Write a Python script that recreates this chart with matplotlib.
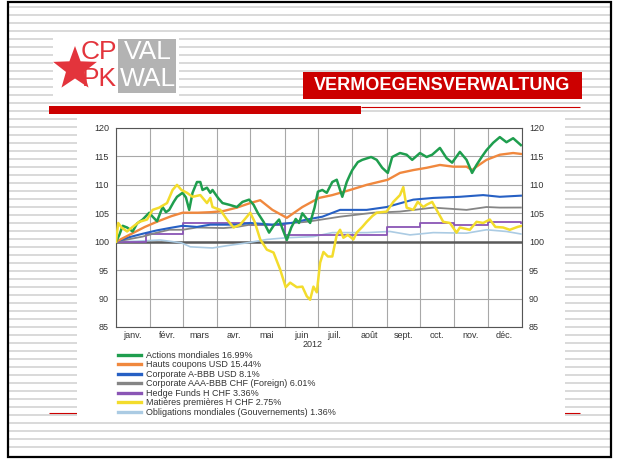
import matplotlib
matplotlib.use("Agg")
import matplotlib.pyplot as plt
import matplotlib.dates as mdates
from matplotlib.ticker import NullFormatter, FuncFormatter
from matplotlib.lines import Line2D
from matplotlib.patches import Rectangle, Polygon
import numpy as np
import pandas as pd

plt.rcParams['font.family'] = ['Liberation Sans', 'DejaVu Sans']

W, H = 618, 459

# index values, 1 Jan 2012 = 100
green_d = ["01-01", "01-04", "01-07", "01-11", "01-16", "01-20", "01-25", "01-31",
           "02-03", "02-07", "02-12", "02-15", "02-18", "02-22", "02-25", "03-01",
           "03-04", "03-07", "03-10", "03-14", "03-17", "03-19", "03-23", "03-26",
           "03-28", "04-02", "04-06", "04-12", "04-19", "04-24", "04-30", "05-04",
           "05-08", "05-13", "05-18", "05-22", "05-27", "05-31", "06-03", "06-07",
           "06-11", "06-14", "06-17", "06-21", "06-24", "06-28", "07-01", "07-05",
           "07-09", "07-14", "07-18", "07-23", "07-27", "07-30", "08-01", "08-06",
           "08-10", "08-18", "08-23", "08-28", "09-02", "09-06", "09-13", "09-19",
           "09-24", "10-01", "10-07", "10-12", "10-19", "10-25", "10-30", "11-06",
           "11-12", "11-17", "11-21", "11-26", "11-30", "12-06", "12-12", "12-18",
           "12-24", "12-31"]
green_v = [100, 101.2, 102.8, 102.5, 101.8, 103.2, 103.9, 105.1,
           104.4, 103.6, 106.1, 105.2, 105.6, 107.0, 107.9, 108.6,
           107.8, 105.6, 108.6, 110.5, 110.5, 109.1, 109.5, 108.6,
           109.1, 107.7, 106.8, 106.5, 106.1, 107.0, 107.4, 106.5,
           105.0, 103.5, 101.6, 102.8, 103.9, 101.8, 100.3, 102.5,
           104.0, 103.3, 105.0, 104.0, 103.3, 106.0, 108.8, 109.1,
           108.6, 110.5, 110.9, 107.9, 110.5, 111.8, 112.6, 114.0,
           114.4, 114.9, 114.4, 113.0, 112.1, 114.9, 115.6, 115.3,
           114.4, 115.6, 114.9, 115.3, 116.5, 114.7, 113.9, 115.8,
           114.4, 112.1, 113.5, 115.0, 116.1, 117.4, 118.4, 117.5,
           118.2, 116.99]

orange_d = ["01-01", "01-13", "01-27", "02-08", "02-20", "03-01", "03-15", "03-27",
            "04-07", "04-19", "05-01", "05-10", "05-21", "06-03", "06-17", "07-02",
            "07-14", "07-30", "08-14", "09-02", "09-13", "09-25", "10-07", "10-19",
            "10-31", "11-12", "11-17", "11-21", "11-30", "12-12", "12-24", "12-31"]
orange_v = [100, 101.2, 102.6, 103.6, 104.5, 105.1, 105.1, 105.2,
            105.4, 106.0, 106.8, 107.3, 105.6, 104.2, 106.1, 107.7,
            108.2, 109.1, 110.0, 110.9, 112.1, 112.6, 113.0, 113.5,
            113.2, 113.2, 112.6, 113.2, 114.4, 115.3, 115.6, 115.44]

blue_d = ["01-01", "01-13", "01-25", "02-07", "02-18", "03-01", "03-14", "03-26",
          "04-19", "05-01", "05-21", "06-07", "06-21", "07-05", "07-21", "08-01",
          "08-14", "09-01", "09-25", "10-13", "11-06", "11-27", "12-12", "12-31"]
blue_v = [100, 100.8, 101.4, 102.0, 102.4, 102.8, 102.6, 103.0,
          103.0, 103.3, 103.0, 103.3, 103.9, 104.4, 105.6, 105.6,
          105.6, 106.1, 107.4, 107.7, 107.9, 108.2, 107.9, 108.1]

gray_d = ["01-01", "01-25", "02-07", "02-18", "03-01", "03-14", "04-07", "04-19",
          "05-01", "05-21", "06-21", "07-21", "08-20", "09-13", "10-13", "11-12",
          "11-30", "12-12", "12-31"]
gray_v = [100, 100.9, 101.6, 102.1, 102.1, 102.5, 102.4, 102.6,
          103.0, 103.0, 103.5, 104.4, 105.1, 105.3, 106.0, 105.6,
          106.1, 106.0, 106.01]

purple_d = ["01-01", "01-28", "03-01", "05-01", "06-01", "09-01", "10-01", "11-01",
            "12-01", "12-31"]
purple_v = [100, 101.3, 103.3, 103.0, 101.2, 102.5, 103.3, 103.0, 103.5, 103.36]

yellow_d = ["01-01", "01-03", "01-06", "01-11", "01-16", "01-22", "01-29", "02-03",
            "02-09", "02-16", "02-21", "02-25", "02-29", "03-05", "03-10", "03-17",
            "03-23", "03-26", "03-28", "04-04", "04-10", "04-16", "04-22", "04-28",
            "05-01", "05-05", "05-10", "05-16", "05-22", "05-28", "06-02", "06-06",
            "06-12", "06-17", "06-21", "06-24", "06-27", "06-30", "07-03", "07-06",
            "07-10", "07-14", "07-18", "07-21", "07-24", "07-28", "08-02", "08-05",
            "08-10", "08-14", "08-19", "08-23", "09-01", "09-07", "09-13", "09-16",
            "09-19", "09-25", "09-29", "10-04", "10-07", "10-12", "10-16", "10-22",
            "10-28", "11-03", "11-06", "11-15", "11-21", "11-27", "12-03", "12-08",
            "12-15", "12-21", "12-28", "12-31"]
yellow_v = [100, 103.3, 102.5, 101.8, 102.6, 103.5, 103.9, 105.6,
            106.0, 106.8, 109.1, 110.0, 109.1, 108.6, 107.9, 108.2,
            106.8, 107.7, 106.1, 105.6, 103.9, 102.5, 103.0, 104.4,
            105.1, 103.5, 100.4, 98.6, 98.1, 95.1, 92.0, 92.8,
            92.0, 92.1, 90.4, 89.8, 92.1, 91.1, 96.3, 98.2,
            97.4, 97.4, 101.2, 102.1, 100.7, 101.2, 100.4, 101.6,
            102.6, 103.5, 104.5, 105.1, 105.3, 107.0, 108.2, 109.6,
            106.0, 105.6, 107.0, 106.1, 106.5, 107.0, 105.6, 103.5,
            103.3, 101.6, 102.5, 102.1, 103.5, 103.3, 103.9, 102.6,
            102.5, 102.1, 102.6, 102.75]

lblue_d = ["01-01", "01-20", "02-10", "02-29", "03-08", "03-28", "04-10", "04-28",
           "05-16", "06-03", "06-27", "07-14", "08-14", "09-04", "09-22", "10-13",
           "11-12", "11-30", "12-18", "12-31"]
lblue_v = [100, 100.1, 100.3, 99.8, 99.1, 98.9, 99.3, 99.8,
           100.4, 100.7, 100.9, 101.6, 101.6, 101.8, 101.2, 101.6,
           101.5, 102.1, 101.8, 101.36]

labels = ["Actions mondiales 16.99%",
          "Hauts coupons USD 15.44%",
          "Corporate A-BBB USD 8.1%",
          "Corporate AAA-BBB CHF (Foreign) 6.01%",
          "Hedge Funds H CHF 3.36%",
          "Matières premières H CHF 2.75%",
          "Obligations mondiales (Gouvernements) 1.36%"]
colors = ["#1f9e4e", "#f0883e", "#2660c4", "#858585", "#8a55b5", "#f3dc2c", "#abcbe3"]
months_fr = ["janv.", "févr.", "mars", "avr.", "mai", "juin",
             "juil.", "août", "sept.", "oct.", "nov.", "déc."]


def to_dates(md):
    return pd.to_datetime(["2012-" + d for d in md])


fig = plt.figure(figsize=(W / 100, H / 100), dpi=100)

# slide background in pixel coordinates
bg = fig.add_axes([0, 0, 1, 1])
bg.set_xlim(0, W)
bg.set_ylim(H, 0)
bg.axis('off')
for y in np.arange(7, 455, 8.0):
    bg.hlines(y, 9, 610, color='#d9d9d9', lw=1.4, zorder=0)
bg.add_patch(Rectangle((8, 2), 603, 455, fill=False, ec='black', lw=1.6, zorder=5))

# logo
bg.add_patch(Rectangle((53, 37), 126, 63, fc='white', ec='none', zorder=1))
bg.add_patch(Rectangle((118, 39), 58, 54, fc='#b3b3b3', ec='none', zorder=1))
ang = np.deg2rad(198 + np.arange(10) * 36)
rad = np.where(np.arange(10) % 2 == 0, 23, 9.5)
bg.add_patch(Polygon(np.c_[75 + rad * np.cos(ang), 69 + rad * np.sin(ang)],
                     fc='#e3343c', ec='none', zorder=1))
bg.text(117, 52, "CP", color='#e3343c', fontsize=19, ha='right', va='center')
bg.text(117, 79, "PK", color='#e3343c', fontsize=19, ha='right', va='center')
bg.text(148, 52, "VAL", color='white', fontsize=19, ha='center', va='center')
bg.text(148, 79, "WAL", color='white', fontsize=19, ha='center', va='center')

# header
bg.add_patch(Rectangle((303, 72), 279, 27, fc='#cc0000', ec='none', zorder=1))
bg.text(442, 86, "VERMOEGENSVERWALTUNG", color='white', fontsize=13,
        fontweight='bold', ha='center', va='center')
bg.add_patch(Rectangle((49, 106), 312, 8, fc='#cc0000', ec='none', zorder=1))
bg.hlines(107, 361, 580, color='#cc0000', lw=0.8, zorder=1)
bg.hlines(413, 49, 580, color='#cc0000', lw=0.8, zorder=1)

# chart panel
bg.add_patch(Rectangle((77, 114), 488, 305, fc='white', ec='none', zorder=2))

ax = fig.add_axes([116 / W, 1 - 327 / H, 406 / W, 199 / H])
ax.set_facecolor('white')

series = [(lblue_d, lblue_v, 6, 1.2), (purple_d, purple_v, 4, 1.3),
          (gray_d, gray_v, 3, 1.3), (blue_d, blue_v, 2, 1.5),
          (orange_d, orange_v, 1, 1.7), (green_d, green_v, 0, 1.8),
          (yellow_d, yellow_v, 5, 1.8)]
for d, v, i, lw in series:
    ds = 'steps-post' if i == 4 else 'default'
    ax.plot(to_dates(d), v, color=colors[i], lw=lw, drawstyle=ds, zorder=3)

ax.axhline(100, color='#5a5a5a', lw=1.8, zorder=2)
ax.set_ylim(85, 120)
ax.set_xlim(pd.Timestamp("2012-01-01"), pd.Timestamp("2013-01-01"))
ax.set_yticks(range(85, 121, 5))
ax.xaxis.set_major_locator(mdates.MonthLocator())
ax.xaxis.set_major_formatter(NullFormatter())
ax.xaxis.set_minor_locator(mdates.MonthLocator(bymonthday=16))
ax.xaxis.set_minor_formatter(FuncFormatter(
    lambda x, pos: months_fr[mdates.num2date(x).month - 1]))
ax.grid(which='major', color='#a8a8a8', lw=0.8)
ax.tick_params(which='both', length=0, labelsize=6.5, colors='#333333')
ax.tick_params(axis='x', which='minor', pad=3)
ax.tick_params(axis='y', labelright=True, pad=5)
for s in ax.spines.values():
    s.set_color('#555555')
    s.set_linewidth(0.8)
ax.text(0.485, -0.09, "2012", transform=ax.transAxes, ha='center', va='center',
        fontsize=6.5, color='#333333')

handles = [Line2D([], [], color=c, lw=2.4) for c in colors]
ax.legend(handles, labels, loc='upper left', bbox_to_anchor=(118 / W, 1 - 351 / H),
          bbox_transform=fig.transFigure, frameon=False, fontsize=6.5,
          labelspacing=0.05, handlelength=2.6, handletextpad=0.5,
          borderpad=0, borderaxespad=0, labelcolor='#333333')

fig.savefig("out.png", dpi=100)
